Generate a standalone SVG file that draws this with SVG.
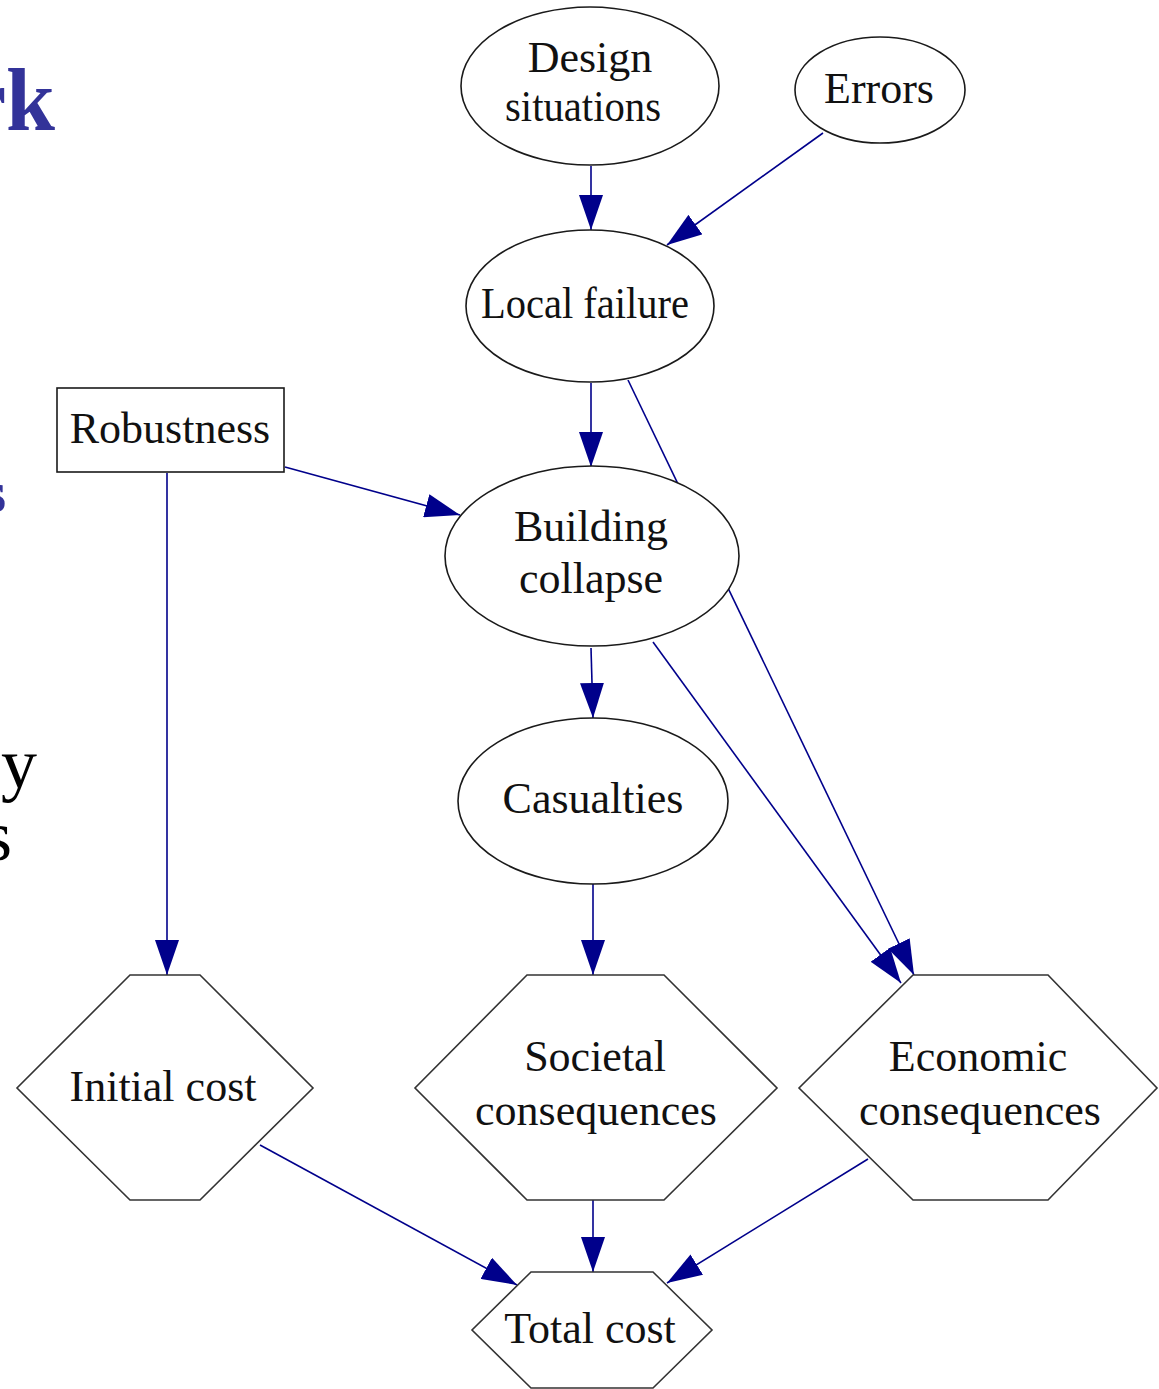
<svg xmlns="http://www.w3.org/2000/svg" width="1159" height="1389" viewBox="0 0 1159 1389">
<style>
.n{fill:#fff;stroke:#1a1a1a;stroke-width:1.6}
.h{fill:#fff;stroke:#333;stroke-width:1.6}
.t{font-size:44px;fill:#111;text-anchor:middle}
.e{fill:none;stroke:#00008b;stroke-width:1.6}
.bl{font-weight:bold;fill:#333399;text-anchor:end}
.bk{fill:#000;text-anchor:end}
</style>
<defs>
<marker id="a" markerUnits="userSpaceOnUse" markerWidth="36" markerHeight="24" refX="35" refY="12" orient="auto" viewBox="0 0 36 24">
<path d="M0,0 L35,12 L0,24 Z" fill="#00008b"/>
</marker>
</defs>
<rect width="1159" height="1389" fill="#fff"/>
<g font-family="'Liberation Serif', 'Times New Roman', serif">
<g id="slide-fragments">
<text class="bl" x="55" y="130" font-size="88">rk</text>
<text class="bl" x="6" y="512" font-size="60">s</text>
<text class="bk" x="37" y="788" font-size="72">y</text>
<text class="bk" x="12" y="860" font-size="72">s</text>
</g>
<g id="connectors">
<line class="e" x1="591" y1="166" x2="591" y2="230" marker-end="url(#a)"/>
<line class="e" x1="823" y1="133" x2="667" y2="245" marker-end="url(#a)"/>
<line class="e" x1="591" y1="383" x2="591" y2="467" marker-end="url(#a)"/>
<line class="e" x1="628" y1="380" x2="914" y2="975" marker-end="url(#a)"/>
<line class="e" x1="285" y1="467" x2="460" y2="515" marker-end="url(#a)"/>
<line class="e" x1="167" y1="473" x2="167" y2="975" marker-end="url(#a)"/>
<line class="e" x1="591" y1="648" x2="593" y2="718" marker-end="url(#a)"/>
<line class="e" x1="653" y1="642" x2="901" y2="983" marker-end="url(#a)"/>
<line class="e" x1="593" y1="884" x2="593" y2="975" marker-end="url(#a)"/>
<line class="e" x1="260" y1="1145" x2="517" y2="1285" marker-end="url(#a)"/>
<line class="e" x1="593" y1="1200" x2="593" y2="1272" marker-end="url(#a)"/>
<line class="e" x1="868" y1="1159" x2="667" y2="1283" marker-end="url(#a)"/>
</g>
<g id="design-situations">
<ellipse class="n" cx="590" cy="86" rx="129" ry="79"/>
<text class="t" x="590" y="72">Design</text>
<text class="t" x="583" y="121" textLength="156" lengthAdjust="spacingAndGlyphs">situations</text>
</g>
<g id="errors">
<ellipse class="n" cx="880" cy="90" rx="85" ry="53"/>
<text class="t" x="879" y="103">Errors</text>
</g>
<g id="local-failure">
<ellipse class="n" cx="590" cy="306" rx="124" ry="76"/>
<text class="t" x="585" y="318" textLength="208" lengthAdjust="spacingAndGlyphs">Local failure</text>
</g>
<g id="robustness">
<rect class="n" x="57" y="388" width="227" height="84"/>
<text class="t" x="170" y="443">Robustness</text>
</g>
<g id="building-collapse">
<ellipse class="n" cx="592" cy="556" rx="147" ry="90"/>
<text class="t" x="591" y="541">Building</text>
<text class="t" x="591" y="593">collapse</text>
</g>
<g id="casualties">
<ellipse class="n" cx="593" cy="801" rx="135" ry="83"/>
<text class="t" x="593" y="813">Casualties</text>
</g>
<g id="initial-cost">
<polygon class="h" points="130,975 200,975 313,1088 200,1200 130,1200 17,1088"/>
<text class="t" x="163" y="1101">Initial cost</text>
</g>
<g id="societal-consequences">
<polygon class="h" points="527,975 664,975 777,1088 664,1200 527,1200 415,1088"/>
<text class="t" x="595" y="1071">Societal</text>
<text class="t" x="596" y="1125">consequences</text>
</g>
<g id="economic-consequences">
<polygon class="h" points="913,975 1048,975 1157,1088 1048,1200 913,1200 799,1088"/>
<text class="t" x="978" y="1071">Economic</text>
<text class="t" x="980" y="1125">consequences</text>
</g>
<g id="total-cost">
<polygon class="h" points="531,1272 653,1272 712,1330 653,1388 531,1388 472,1330"/>
<text class="t" x="590" y="1343">Total cost</text>
</g>
</g>
</svg>
